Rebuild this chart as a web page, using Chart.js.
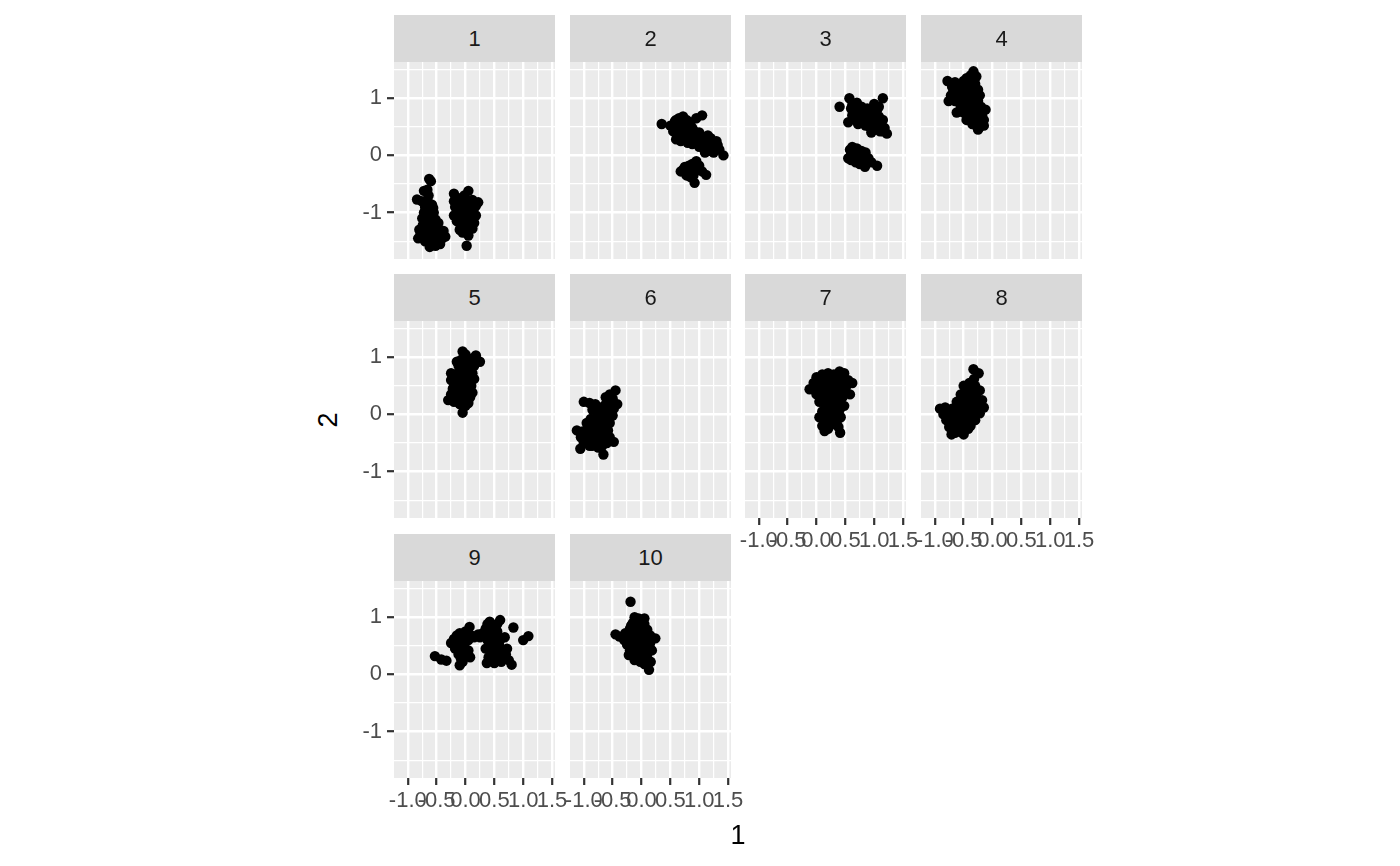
<!DOCTYPE html>
<html><head><meta charset="utf-8">
<script src="https://cdn.jsdelivr.net/npm/chart.js@4"></script>
<style>
body{margin:0;background:#fff;width:1400px;height:866px;position:relative;overflow:hidden;font-family:"Liberation Sans",Arial,sans-serif;}
.strip{position:absolute;background:#D9D9D9;color:#1A1A1A;font-size:22px;text-align:center;z-index:5;}
canvas{position:absolute;}
.title{position:absolute;color:#000;font-size:27px;z-index:6;}
</style></head><body>
<script>
// ---- data ----
const panelLabels = ['1','2','3','4','5','6','7','8','9','10'];
const xTickValues = [-1, -0.5, 0, 0.5, 1, 1.5];
const xTickLabels = ['-1.0','-0.5','0.0','0.5','1.0','1.5'];
const xMinorValues = [-0.75, -0.25, 0.25, 0.75, 1.25];
const yTickValues = [-1, 0, 1];
const yTickLabels = ['-1','0','1'];
const yMinorValues = [-1.5, -0.5, 0.5, 1.5];
const xAxisTitle = '1';
const yAxisTitle = '2';

const panel1 = [[-0.63,-0.41],[-0.60,-0.45],[-0.66,-0.60],[-0.72,-0.62],[-0.84,-0.77],[-0.76,-0.80],[-0.66,-0.78],[-0.58,-0.86],[-0.70,-0.90],[-0.62,-0.95],[-0.72,-1.00],[-0.55,-1.00],[-0.66,-1.05],[-0.60,-1.10],[-0.70,-1.15],[-0.52,-1.12],[-0.62,-1.20],[-0.47,-1.18],[-0.55,-1.25],[-0.80,-1.30],[-0.68,-1.30],[-0.45,-1.30],[-0.60,-1.35],[-0.38,-1.32],[-0.50,-1.38],[-0.82,-1.45],[-0.65,-1.45],[-0.40,-1.45],[-0.55,-1.50],[-0.62,-1.60],[-0.52,-1.58],[-0.44,-1.55],[-0.35,-1.42],[-0.72,-1.40],
  [-0.75,-1.10],[-0.68,-1.22],[-0.58,-1.28],[-0.48,-1.40],[-0.70,-1.50],[-0.62,-1.52],[-0.78,-1.38],[-0.56,-0.92],[-0.64,-0.70],[-0.74,-1.22],[-0.46,-1.48],[-0.58,-1.42],[-0.50,-1.22],[-0.66,-1.38],
  [-0.20,-0.67],[0.05,-0.62],[0.22,-0.82],[-0.12,-0.75],[0.12,-0.78],[-0.05,-0.80],[-0.18,-0.90],[0.00,-0.90],[0.15,-0.92],[-0.10,-1.00],[0.08,-1.00],[-0.20,-1.05],[0.18,-1.05],[-0.02,-1.08],[0.10,-1.12],[-0.15,-1.15],[0.05,-1.20],[-0.08,-1.25],[0.12,-1.28],[-0.05,-1.35],[0.00,-1.32],[0.02,-1.58],
  [-0.12,-0.85],[0.05,-0.85],[-0.15,-0.95],[0.10,-0.95],[-0.05,-1.00],[0.02,-1.15],[-0.12,-1.08],[0.15,-1.18],[-0.10,-1.30],[0.08,-1.25],[-0.20,-0.80],[0.18,-0.88],[-0.02,-0.70],[0.05,-1.40]];
const panel2 = [[0.35,0.55],[0.50,0.52],[0.58,0.60],[0.65,0.65],[0.72,0.68],[0.78,0.62],[0.85,0.58],[1.05,0.70],[0.95,0.65],[0.55,0.42],[0.62,0.35],[0.70,0.45],[0.75,0.30],[0.82,0.40],[0.88,0.48],[0.90,0.32],[0.68,0.25],[0.80,0.22],[0.95,0.25],[1.00,0.15],[1.05,0.30],[1.10,0.20],[1.15,0.35],[1.20,0.30],[1.25,0.22],[1.30,0.25],[1.28,0.12],[1.18,0.08],[1.35,0.10],[1.42,0.00],[1.10,0.05],[0.92,0.42],[0.60,0.50],[0.78,0.52],
  [0.60,0.62],[0.68,0.55],[0.72,0.58],[0.65,0.45],[0.75,0.40],[0.80,0.48],[0.85,0.30],[0.95,0.35],[1.00,0.40],[1.08,0.25],[1.15,0.15],[1.22,0.18],[1.25,0.05],[1.32,0.18],[0.70,0.35],[0.60,0.28],[0.88,0.20],[1.12,0.12],
  [0.68,-0.28],[0.75,-0.20],[0.80,-0.30],[0.88,-0.15],[0.95,-0.10],[1.00,-0.18],[0.85,-0.38],[0.92,-0.48],[1.05,-0.28],[1.12,-0.34],[0.78,-0.35],[0.98,-0.25],
  [0.72,-0.25],[0.85,-0.25],[0.90,-0.35],[0.95,-0.20],[0.82,-0.18]];
const panel3 = [[0.40,0.85],[0.57,1.00],[0.62,0.88],[0.70,0.92],[0.78,0.85],[0.88,0.82],[1.00,0.90],[1.15,1.00],[1.08,0.85],[0.55,0.58],[0.62,0.70],[0.68,0.62],[0.75,0.72],[0.82,0.65],[0.90,0.70],[0.95,0.60],[1.02,0.72],[0.72,0.55],[0.85,0.52],[0.98,0.50],[1.05,0.58],[1.12,0.55],[1.18,0.48],[1.22,0.38],[1.10,0.42],[0.95,0.40],[0.88,0.58],[1.15,0.62],[0.78,0.78],[0.65,0.80],
  [0.60,0.82],[0.72,0.80],[0.82,0.75],[0.95,0.78],[1.08,0.68],[0.75,0.62],[0.82,0.58],[0.92,0.50],[1.00,0.45],[1.08,0.48],[1.15,0.42],[0.70,0.68],[0.88,0.65],[1.05,0.80],[0.98,0.62],
  [0.55,-0.05],[0.58,0.10],[0.62,0.15],[0.70,0.12],[0.78,0.08],[0.85,0.05],[0.65,0.00],[0.72,-0.05],[0.80,-0.02],[0.90,-0.05],[0.68,-0.12],[0.84,-0.20],[1.05,-0.18],[0.95,-0.12],[0.75,-0.15],[0.60,-0.08],
  [0.62,0.05],[0.70,0.02],[0.75,0.08],[0.82,-0.08],[0.68,0.08],[0.88,-0.12],[0.60,0.02],[0.78,-0.10]];
const panel4 = [[-0.78,1.30],[-0.70,1.20],[-0.65,1.28],[-0.55,1.25],[-0.45,1.35],[-0.38,1.40],[-0.33,1.47],[-0.28,1.38],[-0.30,1.25],[-0.25,1.15],[-0.40,1.15],[-0.50,1.10],[-0.62,1.10],[-0.72,1.05],[-0.76,0.95],[-0.65,0.95],[-0.55,0.98],[-0.45,1.00],[-0.35,1.02],[-0.30,0.92],[-0.42,0.88],[-0.55,0.85],[-0.62,0.75],[-0.50,0.75],[-0.40,0.78],[-0.30,0.80],[-0.20,0.85],[-0.12,0.80],[-0.18,0.70],[-0.28,0.70],[-0.38,0.65],[-0.45,0.62],[-0.30,0.58],[-0.20,0.60],[-0.15,0.52],[-0.25,0.45],[-0.35,0.55],[-0.18,0.75],[-0.22,1.05],[-0.48,1.20],
  [-0.60,1.18],[-0.50,1.30],[-0.42,1.25],[-0.35,1.30],[-0.38,1.10],[-0.45,1.05],[-0.58,1.02],[-0.68,1.15],[-0.40,0.95],[-0.50,0.90],[-0.35,0.85],[-0.25,0.95],[-0.45,0.72],[-0.35,0.72],[-0.25,0.62],[-0.22,0.50],[-0.28,0.52],[-0.15,0.62],[-0.30,1.10]];
const panel5 = [[-0.05,1.10],[0.00,1.05],[0.18,1.03],[0.25,0.92],[0.12,0.98],[0.05,0.92],[-0.08,0.95],[-0.12,0.85],[-0.05,0.80],[0.08,0.82],[0.15,0.85],[-0.25,0.72],[-0.18,0.70],[-0.10,0.65],[0.00,0.68],[0.08,0.62],[-0.20,0.58],[-0.10,0.55],[0.00,0.52],[0.10,0.50],[-0.22,0.45],[-0.12,0.42],[0.02,0.40],[0.12,0.38],[-0.25,0.35],[-0.15,0.30],[-0.05,0.28],[0.08,0.30],[-0.30,0.25],[-0.20,0.22],[-0.10,0.18],[0.05,0.20],[-0.05,0.03],[-0.15,0.62],[0.05,0.75],[-0.02,0.45],
  [-0.15,0.92],[0.02,0.88],[-0.08,0.75],[0.12,0.72],[-0.20,0.65],[0.15,0.62],[-0.05,0.58],[0.05,0.55],[-0.15,0.48],[0.08,0.45],[-0.08,0.35],[0.02,0.33],[-0.18,0.38],[-0.12,0.25],[0.00,0.15],[0.10,0.90],[0.20,0.95],[-0.25,0.60]];
const panel6 = [[-0.45,0.42],[-0.55,0.35],[-0.62,0.30],[-0.50,0.28],[-0.42,0.18],[-0.58,0.20],[-1.00,0.22],[-0.90,0.20],[-0.80,0.18],[-0.72,0.12],[-0.85,0.08],[-0.65,0.05],[-0.55,0.08],[-0.75,0.00],[-0.62,-0.05],[-0.50,-0.02],[-0.88,-0.08],[-0.95,-0.15],[-0.80,-0.15],[-0.68,-0.18],[-0.55,-0.15],[-1.12,-0.28],[-1.02,-0.30],[-0.90,-0.28],[-0.78,-0.30],[-0.65,-0.32],[-0.58,-0.28],[-1.05,-0.40],[-0.92,-0.42],[-0.80,-0.45],[-0.70,-0.42],[-0.48,-0.48],[-0.60,-0.50],[-1.06,-0.60],[-0.85,-0.55],[-0.66,-0.70],[-0.75,-0.58],
  [-0.70,0.05],[-0.60,0.12],[-0.48,0.10],[-0.78,-0.08],[-0.65,-0.10],[-0.72,-0.25],[-0.85,-0.35],[-0.70,-0.35],[-0.92,-0.20],[-1.00,-0.50],[-0.90,-0.55],[-0.78,-0.50],[-0.68,-0.55],[-0.55,-0.40],[-0.62,-0.42],[-0.52,0.22],[-0.62,0.18]];
const panel7 = [[-0.12,0.44],[-0.05,0.55],[0.00,0.65],[0.10,0.70],[0.20,0.72],[0.30,0.70],[0.40,0.75],[0.48,0.72],[0.55,0.60],[0.62,0.55],[0.45,0.55],[0.35,0.58],[0.25,0.55],[0.15,0.58],[0.05,0.50],[-0.02,0.42],[0.10,0.40],[0.22,0.42],[0.35,0.45],[0.50,0.42],[0.58,0.35],[0.45,0.30],[0.30,0.32],[0.15,0.30],[0.05,0.22],[0.20,0.18],[0.35,0.20],[0.48,0.15],[0.10,0.05],[0.25,0.05],[0.40,0.08],[0.05,-0.05],[0.15,-0.10],[0.30,-0.08],[0.42,-0.05],[0.10,-0.20],[0.25,-0.18],[0.14,-0.29],[0.41,-0.32],[0.38,-0.22],
  [0.10,0.60],[0.20,0.62],[0.30,0.62],[0.40,0.65],[0.08,0.30],[0.25,0.35],[0.40,0.40],[0.18,0.48],[0.30,0.50],[0.42,0.48],[0.52,0.50],[0.15,0.12],[0.30,0.12],[0.38,0.02],[0.20,-0.02],[0.28,-0.15],[0.35,-0.15],[0.20,-0.25],[0.00,0.35],[0.12,0.22],[0.30,0.25]];
const panel8 = [[-0.33,0.79],[-0.24,0.72],[-0.50,0.50],[-0.40,0.55],[-0.30,0.50],[-0.22,0.42],[-0.45,0.40],[-0.35,0.38],[-0.55,0.35],[-0.28,0.30],[-0.18,0.25],[-0.40,0.25],[-0.50,0.20],[-0.62,0.22],[-0.30,0.18],[-0.15,0.12],[-0.25,0.10],[-0.40,0.10],[-0.55,0.08],[-0.70,0.10],[-0.82,0.12],[-0.91,0.10],[-0.85,0.00],[-0.75,-0.02],[-0.62,0.00],[-0.48,-0.02],[-0.35,0.00],[-0.22,0.02],[-0.80,-0.10],[-0.68,-0.12],[-0.55,-0.10],[-0.42,-0.12],[-0.30,-0.10],[-0.75,-0.22],[-0.62,-0.25],[-0.48,-0.22],[-0.38,-0.20],[-0.71,-0.35],[-0.50,-0.35],[-0.60,-0.30],
  [-0.38,0.45],[-0.28,0.40],[-0.48,0.30],[-0.35,0.30],[-0.45,0.18],[-0.60,0.15],[-0.68,0.05],[-0.55,0.00],[-0.40,0.02],[-0.28,0.05],[-0.50,-0.08],[-0.38,-0.05],[-0.62,-0.15],[-0.55,-0.20],[-0.42,-0.25],[-0.65,-0.32],[-0.72,0.00],[-0.25,0.22],[-0.32,0.62]];
const panel9 = [[-0.53,0.32],[-0.42,0.26],[-0.33,0.24],[-0.25,0.55],[-0.20,0.62],[-0.15,0.68],[-0.10,0.72],[-0.05,0.65],[0.00,0.75],[0.07,0.83],[-0.18,0.45],[-0.10,0.50],[-0.02,0.52],[0.05,0.60],[-0.12,0.35],[-0.05,0.22],[-0.10,0.16],[0.08,0.30],[0.05,0.42],[0.15,0.65],[0.22,0.70],[0.30,0.72],[0.35,0.80],[0.42,0.92],[0.50,0.85],[0.60,0.95],[0.55,0.75],[0.45,0.70],[0.38,0.60],[0.48,0.55],[0.60,0.60],[0.68,0.65],[0.35,0.45],[0.45,0.40],[0.55,0.45],[0.65,0.40],[0.72,0.45],[0.40,0.30],[0.55,0.30],[0.68,0.28],[0.37,0.20],[0.50,0.20],[0.62,0.22],[0.75,0.25],[0.80,0.17],[0.83,0.82],[1.00,0.60],[1.09,0.67],
  [-0.15,0.58],[-0.05,0.58],[0.00,0.65],[-0.12,0.45],[0.00,0.40],[-0.08,0.28],[0.10,0.68],[0.25,0.65],[0.40,0.85],[0.45,0.62],[0.52,0.65],[0.58,0.52],[0.50,0.38],[0.58,0.38],[0.45,0.25],[0.60,0.28],[0.70,0.35],[0.38,0.88],[0.55,0.88],[-0.18,0.55]];
const panel10 = [[-0.19,1.27],[-0.12,1.00],[-0.05,0.98],[0.05,0.98],[-0.15,0.90],[-0.05,0.88],[0.05,0.88],[-0.20,0.80],[-0.10,0.78],[0.00,0.80],[0.10,0.78],[-0.28,0.72],[-0.45,0.70],[-0.38,0.66],[-0.15,0.70],[-0.05,0.68],[0.08,0.70],[-0.22,0.62],[-0.12,0.60],[0.00,0.60],[0.12,0.62],[0.24,0.63],[-0.25,0.52],[-0.15,0.50],[-0.02,0.52],[0.10,0.50],[-0.20,0.42],[-0.08,0.42],[0.05,0.40],[-0.22,0.34],[-0.10,0.32],[0.02,0.30],[-0.02,0.22],[0.10,0.25],[0.16,0.22],[0.13,0.08],[-0.30,0.60],[0.15,0.45],
  [-0.12,0.92],[0.00,0.92],[-0.18,0.85],[0.05,0.82],[-0.12,0.72],[0.02,0.75],[-0.25,0.68],[0.15,0.68],[-0.08,0.55],[0.05,0.55],[0.15,0.55],[-0.15,0.38],[0.00,0.35],[0.10,0.35],[-0.12,0.25],[0.05,0.18],[-0.30,0.68],[0.18,0.42],[-0.08,0.62],[-0.15,0.82]];
const panelData = [panel1,panel2,panel3,panel4,panel5,panel6,panel7,panel8,panel9,panel10];

// ---- layout ----
const X_MIN = -1.239, X_MAX = 1.551, Y_MIN = -1.811, Y_MAX = 1.633;
const colLeft = [394, 570, 745, 921];
const rowTop = [62, 321, 581];
const PW = 161, PH = 197, STRIP_H = 47;
const PAD_L = 40, PAD_T = 24, PAD_R = 24, PAD_B = 40;
const FONT = "'Liberation Sans', Arial, sans-serif";

Chart.defaults.font.family = FONT;

const panelBg = {
  id: 'panelBg',
  beforeDraw(chart) {
    const {ctx, chartArea: a} = chart;
    ctx.save();
    ctx.fillStyle = '#EBEBEB';
    ctx.fillRect(a.left, a.top, a.right - a.left, a.bottom - a.top);
    ctx.restore();
  }
};

function labelFor(values, labels, v) {
  const i = values.indexOf(v);
  return i >= 0 ? labels[i] : '';
}

panelData.forEach((pts, i) => {
  const row = Math.floor(i / 4), col = i % 4;
  const showY = col === 0;
  const showX = (i >= 6);
  const L = colLeft[col], T = rowTop[row];

  const strip = document.createElement('div');
  strip.className = 'strip';
  strip.style.left = L + 'px';
  strip.style.top = (T - STRIP_H) + 'px';
  strip.style.width = PW + 'px';
  strip.style.height = STRIP_H + 'px';
  strip.style.lineHeight = STRIP_H + 'px';
  strip.textContent = panelLabels[i];
  document.body.appendChild(strip);

  const cv = document.createElement('canvas');
  const W = PAD_L + PW + PAD_R, H = PAD_T + PH + PAD_B;
  cv.width = W; cv.height = H;
  cv.style.width = W + 'px'; cv.style.height = H + 'px';
  cv.style.left = (L - PAD_L) + 'px';
  cv.style.top = (T - PAD_T) + 'px';
  document.body.appendChild(cv);

  const xAll = [...xTickValues, ...xMinorValues].sort((a, b) => a - b);
  const yAll = [...yTickValues, ...yMinorValues].sort((a, b) => a - b);

  new Chart(cv, {
    type: 'scatter',
    data: {
      datasets: [{
        data: pts.map(([x, y]) => ({x, y})),
        pointRadius: 5.2,
        pointBackgroundColor: '#000',
        pointBorderColor: '#000',
        pointBorderWidth: 0
      }]
    },
    options: {
      responsive: false,
      animation: false,
      devicePixelRatio: 1,
      events: [],
      layout: {padding: {left: 0, top: PAD_T, right: PAD_R, bottom: 0}},
      plugins: {legend: {display: false}, tooltip: {enabled: false}},
      scales: {
        x: {
          type: 'linear', min: X_MIN, max: X_MAX, bounds: 'data',
          afterBuildTicks: s => { s.ticks = xAll.map(v => ({value: v})); },
          afterFit: s => { s.height = PAD_B; },
          border: {display: false},
          grid: {
            color: '#FFFFFF',
            lineWidth: c => xTickValues.includes(c.tick && c.tick.value) ? 2.4 : 1.2,
            drawTicks: showX,
            tickLength: 7,
            tickWidth: 2.2,
            tickColor: c => xTickValues.includes(c.tick && c.tick.value) ? '#333333' : 'rgba(0,0,0,0)'
          },
          ticks: {
            display: showX, autoSkip: false, maxRotation: 0, minRotation: 0,
            padding: 3, color: '#4D4D4D', font: {size: 22},
            callback: v => labelFor(xTickValues, xTickLabels, v)
          }
        },
        y: {
          type: 'linear', min: Y_MIN, max: Y_MAX, bounds: 'data',
          afterBuildTicks: s => { s.ticks = yAll.map(v => ({value: v})); },
          afterFit: s => { s.width = PAD_L; },
          border: {display: false},
          grid: {
            color: '#FFFFFF',
            lineWidth: c => yTickValues.includes(c.tick && c.tick.value) ? 2.4 : 1.2,
            drawTicks: showY,
            tickLength: 7,
            tickWidth: 2.2,
            tickColor: c => yTickValues.includes(c.tick && c.tick.value) ? '#333333' : 'rgba(0,0,0,0)'
          },
          ticks: {
            display: showY, autoSkip: false,
            padding: 5, color: '#4D4D4D', font: {size: 22},
            callback: v => labelFor(yTickValues, yTickLabels, v)
          }
        }
      }
    },
    plugins: [panelBg]
  });
});

const xt = document.createElement('div');
xt.className = 'title';
xt.textContent = xAxisTitle;
xt.style.left = '738px'; xt.style.top = '835px';
xt.style.transform = 'translate(-50%,-50%)';
document.body.appendChild(xt);

const yt = document.createElement('div');
yt.className = 'title';
yt.textContent = yAxisTitle;
yt.style.left = '328px'; yt.style.top = '420px';
yt.style.transform = 'translate(-50%,-50%) rotate(-90deg)';
document.body.appendChild(yt);
</script>
</body></html>
